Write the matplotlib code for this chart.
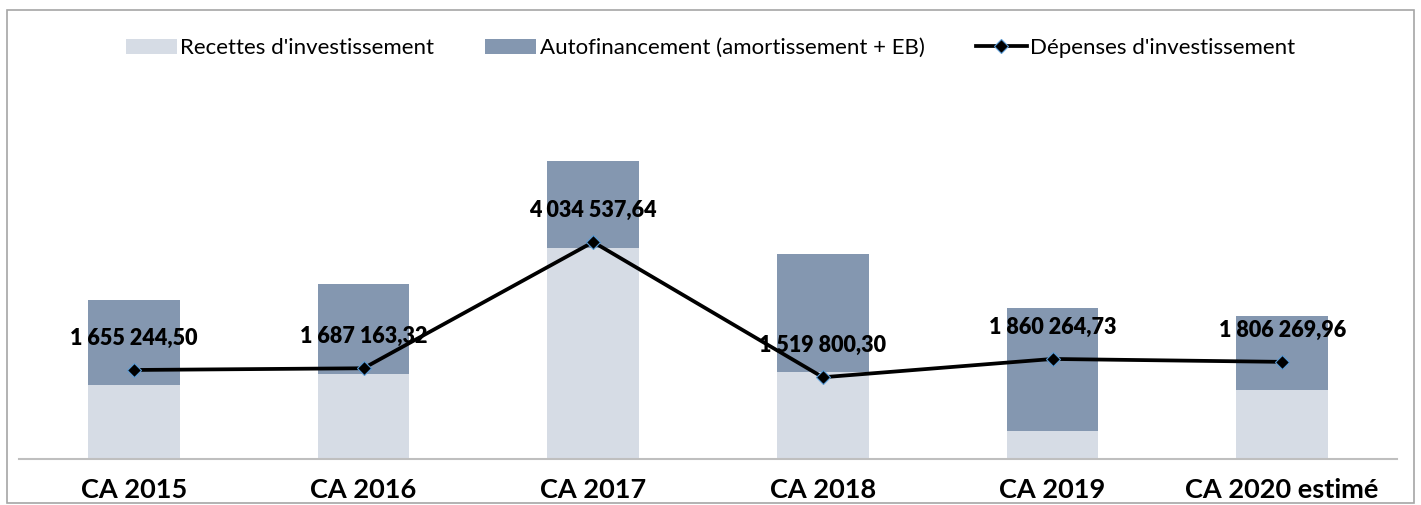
import matplotlib.pyplot as plt
import numpy as np
from matplotlib.patches import Rectangle

categories = ['CA 2015', 'CA 2016', 'CA 2017', 'CA 2018', 'CA 2019', 'CA 2020 estimé']
recettes = [1376000, 1580000, 3924000, 1618000, 521000, 1283000]
autofin = [1580000, 1674000, 1618000, 2194000, 2287000, 1376000]
depenses = [1655244.50, 1687163.32, 4034537.64, 1519800.30, 1860264.73, 1806269.96]
labels = ['1 655 244,50', '1 687 163,32', '4 034 537,64', '1 519 800,30', '1 860 264,73', '1 806 269,96']

plt.rcParams['font.family'] = ['Lato', 'DejaVu Sans']

fig = plt.figure(figsize=(14.21, 5.05), dpi=100)
ax = fig.add_axes([19/1421, 46/505, 1378/1421, 379/505])

x = np.arange(len(categories))
b1 = ax.bar(x, recettes, width=0.4, color='#D6DCE5', label="Recettes d'investissement")
b2 = ax.bar(x, autofin, width=0.4, bottom=recettes, color='#8497B0',
            label='Autofinancement (amortissement + EB)')
l1, = ax.plot(x, depenses, color='black', lw=2.7, marker='D', markersize=7.5,
              markerfacecolor='black', markeredgecolor='#5B9BD5', markeredgewidth=0.8,
              label="Dépenses d'investissement")

for xi, v, t in zip(x, depenses, labels):
    ax.annotate(t, (xi, v), xytext=(0, 23), textcoords='offset points',
                ha='center', va='center', fontsize=15.5, fontweight='heavy')

ax.set_xlim(-0.5, len(categories) - 0.5)
ax.set_ylim(0, 379 * 18595)
ax.set_xticks(x)
ax.set_xticklabels(categories, fontsize=19.5, fontweight='bold')
ax.tick_params(axis='x', length=0, pad=14)
ax.set_yticks([])
for s in ['top', 'right', 'left']:
    ax.spines[s].set_visible(False)
ax.spines['bottom'].set_color('#BFBFBF')
ax.spines['bottom'].set_linewidth(1.5)

fig.legend(handles=[b1, b2, l1], loc='center', bbox_to_anchor=(0.5, 1 - 48/505), ncol=3,
           frameon=False, fontsize=16, handlelength=2.3, handleheight=0.65,
           handletextpad=0.15, columnspacing=2.3)

fig.patches.append(Rectangle((7/1421, 2/505), 1407/1421, 493/505, transform=fig.transFigure,
                             fill=False, edgecolor='#A6A6A6', lw=1.2))

fig.savefig('out.png', dpi=100)
